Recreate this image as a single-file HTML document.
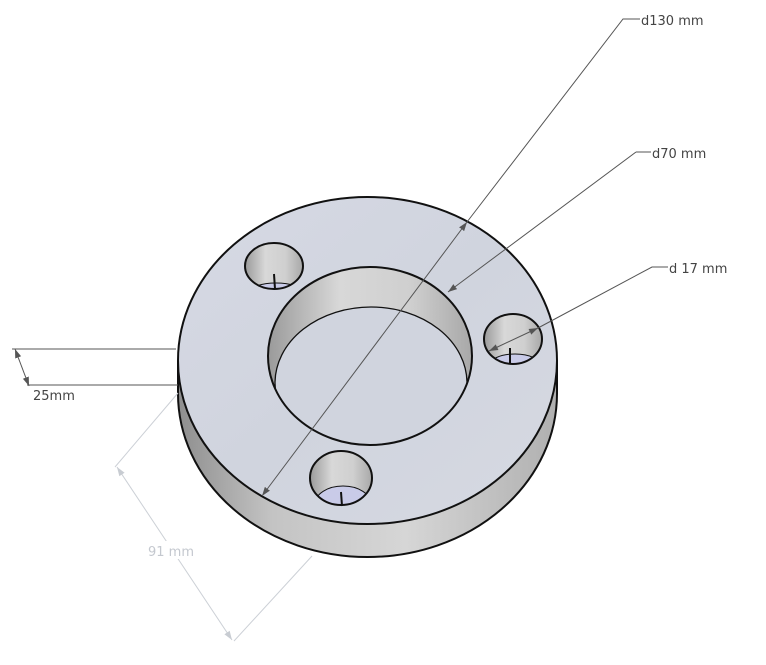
<!DOCTYPE html>
<html><head><meta charset="utf-8"><style>
html,body{margin:0;padding:0;background:#fff;}
svg{display:block;}
text{font-family:"DejaVu Sans","Liberation Sans",sans-serif;}
</style></head><body>
<svg width="766" height="665" viewBox="0 0 766 665" xmlns="http://www.w3.org/2000/svg">
<defs>
<linearGradient id="side" x1="0" x2="1" y1="0" y2="0">
<stop offset="0" stop-color="#8e8e8e"/><stop offset="0.25" stop-color="#c4c4c4"/><stop offset="0.6" stop-color="#d6d6d6"/><stop offset="1" stop-color="#b0b0b0"/>
</linearGradient>
<linearGradient id="wall" x1="0" x2="1" y1="0" y2="0">
<stop offset="0" stop-color="#9a9a9a"/><stop offset="0.35" stop-color="#d8d8d8"/><stop offset="0.7" stop-color="#cfcfcf"/><stop offset="1" stop-color="#a8a8a8"/>
</linearGradient>
<linearGradient id="face" x1="0" x2="1" y1="0" y2="1">
<stop offset="0" stop-color="#d6d9e4"/><stop offset="0.5" stop-color="#d0d4de"/><stop offset="1" stop-color="#d6d9e2"/>
</linearGradient>
<clipPath id="c1"><ellipse cx="370" cy="356" rx="102" ry="89"/></clipPath>
<clipPath id="h1"><ellipse cx="274" cy="266" rx="29" ry="23"/></clipPath>
<clipPath id="h2"><ellipse cx="341" cy="478" rx="31" ry="27"/></clipPath>
<clipPath id="h3"><ellipse cx="513" cy="339" rx="29" ry="25"/></clipPath>
<marker id="ar" viewBox="0 0 10 10" refX="10" refY="5" markerWidth="9" markerHeight="9" orient="auto-start-reverse"><path d="M0,1.5 L10,5 L0,8.5 z" fill="#555"/></marker>
<marker id="arl" viewBox="0 0 10 10" refX="10" refY="5" markerWidth="9" markerHeight="9" orient="auto-start-reverse"><path d="M0,1.5 L10,5 L0,8.5 z" fill="#c8ccd2"/></marker>
</defs>
<!-- side -->
<ellipse cx="367.5" cy="393.5" rx="189.5" ry="163.5" fill="url(#side)" stroke="#111" stroke-width="2"/>
<rect x="178" y="360" width="379" height="34" fill="url(#side)"/>
<line x1="178" y1="360" x2="178" y2="394" stroke="#111" stroke-width="2"/>
<line x1="557" y1="360" x2="557" y2="394" stroke="#111" stroke-width="2"/>
<!-- top face -->
<ellipse cx="367.5" cy="360.5" rx="189.5" ry="163.5" fill="url(#face)" stroke="#111" stroke-width="2"/>
<!-- center hole -->
<ellipse cx="370" cy="356" rx="102" ry="89" fill="url(#wall)"/>
<ellipse cx="371" cy="383" rx="96" ry="76" fill="#d0d4de" stroke="#111" stroke-width="1.3" clip-path="url(#c1)"/>
<ellipse cx="370" cy="356" rx="102" ry="89" fill="none" stroke="#111" stroke-width="2"/>
<!-- small holes -->
<g>
<ellipse cx="274" cy="266" rx="29" ry="23" fill="url(#wall)"/>
<ellipse cx="276" cy="292" rx="26" ry="9" fill="#c9cbe8" stroke="#111" stroke-width="1" clip-path="url(#h1)"/>
<ellipse cx="274" cy="266" rx="29" ry="23" fill="none" stroke="#111" stroke-width="2"/>
<line x1="274" y1="274" x2="275" y2="289" stroke="#111" stroke-width="2"/>
</g>
<g>
<ellipse cx="341" cy="478" rx="31" ry="27" fill="url(#wall)"/>
<ellipse cx="343" cy="504" rx="28" ry="18" fill="#c9cbe8" stroke="#111" stroke-width="1" clip-path="url(#h2)"/>
<ellipse cx="341" cy="478" rx="31" ry="27" fill="none" stroke="#111" stroke-width="2"/>
<line x1="341" y1="492" x2="342" y2="506" stroke="#111" stroke-width="2"/>
</g>
<g>
<ellipse cx="513" cy="339" rx="29" ry="25" fill="url(#wall)"/>
<ellipse cx="515" cy="366" rx="26" ry="12" fill="#c9cbe8" stroke="#111" stroke-width="1" clip-path="url(#h3)"/>
<ellipse cx="513" cy="339" rx="29" ry="25" fill="none" stroke="#111" stroke-width="2"/>
<line x1="510" y1="348" x2="510" y2="363" stroke="#111" stroke-width="2"/>
</g>
<!-- dimensions -->
<g stroke="#555" stroke-width="1" fill="none">
<line x1="262" y1="496" x2="467" y2="222" marker-start="url(#ar)" marker-end="url(#ar)"/>
<polyline points="467,222 623,19 640,19"/>
<line x1="448" y1="292" x2="636" y2="152" marker-start="url(#ar)"/>
<line x1="636" y1="152" x2="651" y2="152"/>
<line x1="489" y1="351" x2="538" y2="328" marker-start="url(#ar)" marker-end="url(#ar)"/>
<polyline points="538,328 652,267 668,267"/>
<line x1="12" y1="349" x2="176" y2="349"/>
<line x1="27" y1="385" x2="178" y2="385"/>
<line x1="15" y1="349" x2="29" y2="386" marker-start="url(#ar)" marker-end="url(#ar)"/>
</g>
<g stroke="#ccd0d6" stroke-width="1" fill="none">
<line x1="178" y1="393" x2="115" y2="467"/>
<line x1="117" y1="467" x2="232" y2="640" marker-start="url(#arl)" marker-end="url(#arl)"/>
<line x1="234" y1="641" x2="312" y2="556"/>
</g>
<rect x="144" y="541" width="56" height="18" fill="#fff"/>
<text x="641" y="25" font-size="13" fill="#444">d130 mm</text>
<text x="652" y="158" font-size="13" fill="#444">d70 mm</text>
<text x="669" y="273" font-size="13" fill="#444">d 17 mm</text>
<text x="33" y="400" font-size="13" fill="#444">25mm</text>
<text x="148" y="556" font-size="13" fill="#c4c8cf">91 mm</text>
</svg>
</body></html>
